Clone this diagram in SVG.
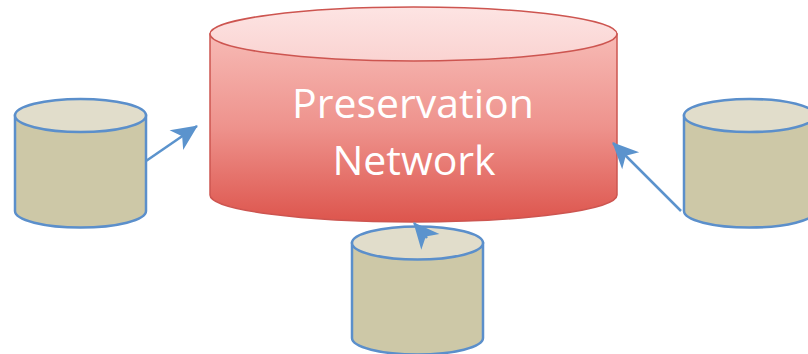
<svg xmlns="http://www.w3.org/2000/svg" width="808" height="354" viewBox="0 0 808 354">
  <defs>
    <linearGradient id="redSide" gradientUnits="userSpaceOnUse" x1="0" y1="34" x2="0" y2="222">
      <stop offset="0" stop-color="#f7bab5"/>
      <stop offset="0.5" stop-color="#ee928c"/>
      <stop offset="1" stop-color="#dd554d"/>
    </linearGradient>
    <linearGradient id="redTop" gradientUnits="userSpaceOnUse" x1="0" y1="7" x2="0" y2="61">
      <stop offset="0" stop-color="#fde4e3"/>
      <stop offset="1" stop-color="#fad3d1"/>
    </linearGradient>
    <marker id="stealth" markerUnits="userSpaceOnUse" markerWidth="30" markerHeight="30" viewBox="-27 -14 30 28" refX="0" refY="0" orient="auto" overflow="visible">
      <path d="M1,0 L-25,-12 L-18,0 L-25,12 Z" fill="#5b93cd"/>
    </marker>
  </defs>
  <style>
    .db-side { fill: #cdc8a7; stroke: #5b8fcb; stroke-width: 2.5; }
    .db-top { fill: #e1ddcb; stroke: #5b8fcb; stroke-width: 2.5; }
    .net-side { fill: url(#redSide); stroke: #cd5550; stroke-width: 1.5; }
    .net-top { fill: url(#redTop); stroke: #cd5550; stroke-width: 1.5; }
    .label { font-family: "Open Sans", "Liberation Sans", sans-serif; font-size: 41px; fill: #ffffff; text-anchor: middle; }
    .conn { fill: none; stroke: #5b93cd; stroke-width: 2.5; marker-end: url(#stealth); }
  </style>

  <g id="preservation-network">
    <path class="net-side" d="M210,34 V195 A203.5,27 0 0 0 617,195 V34 Z"/>
    <ellipse class="net-top" cx="413.5" cy="34" rx="203.5" ry="27"/>
    <text class="label" x="413" y="118">Preservation</text>
    <text class="label" x="414" y="175">Network</text>
  </g>

  <g id="db-left">
    <path class="db-side" d="M15,115.5 V211 A65.5,16.5 0 0 0 146,211 V115.5 Z"/>
    <ellipse class="db-top" cx="80.5" cy="115.5" rx="65.5" ry="16.5"/>
  </g>

  <g id="db-right">
    <path class="db-side" d="M684,115.5 V211 A65.5,16.5 0 0 0 815,211 V115.5 Z"/>
    <ellipse class="db-top" cx="749.5" cy="115.5" rx="65.5" ry="16.5"/>
  </g>

  <g id="db-bottom">
    <path class="db-side" d="M352,243 V338 A65.5,16.5 0 0 0 483,338 V243 Z"/>
    <ellipse class="db-top" cx="417.5" cy="243" rx="65.5" ry="16.5"/>
  </g>

  <g id="connectors">
    <path class="conn" d="M146,161 L197,126"/>
    <path class="conn" d="M681,211 L613,143"/>
    <path class="conn" d="M427,238 L414,223"/>
  </g>
</svg>
